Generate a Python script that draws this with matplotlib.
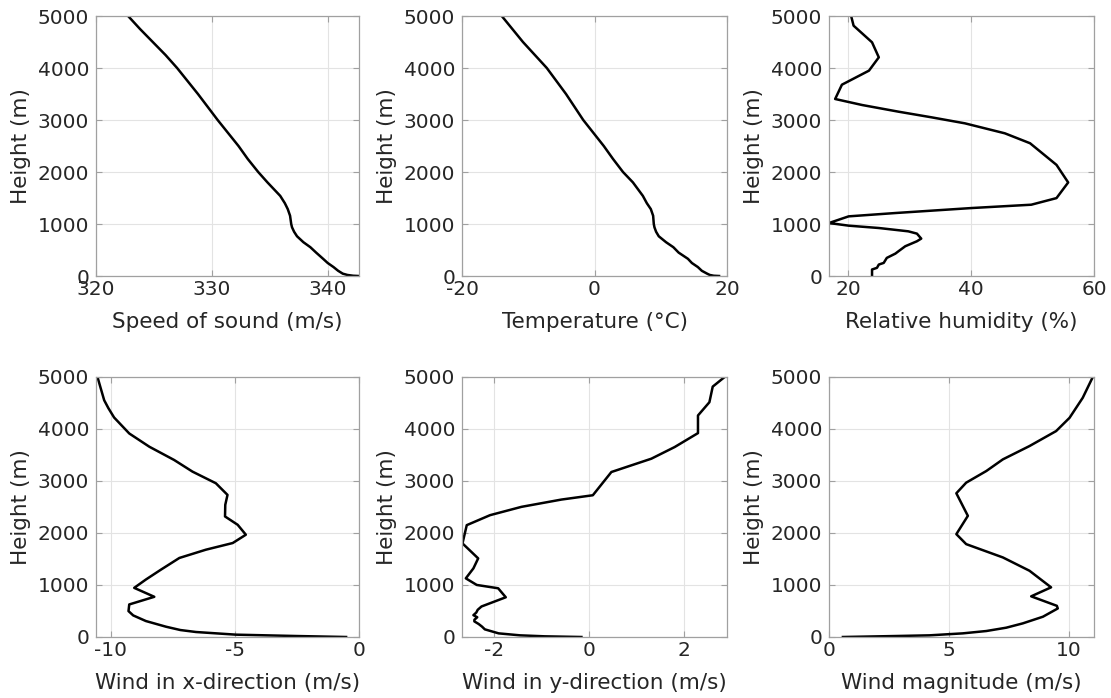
import matplotlib
matplotlib.use("Agg")
import matplotlib.pyplot as plt

# ---------------- data ----------------
sound_h = [0, 5, 20, 45, 100, 172, 250, 331, 450, 554, 650, 764, 850, 936, 1000, 1159, 1287, 1400,
           1541, 1800, 2000, 2250, 2500, 2750, 3000, 3250, 3500, 3750, 4000, 4250, 4500, 4750, 5000]
sound_c = [342.7, 342.2, 341.7, 341.3, 340.9, 340.5, 340.0, 339.6, 339.0, 338.5, 337.9, 337.35, 337.1,
           336.92, 336.85, 336.75, 336.55, 336.3, 335.9, 334.8, 334.0, 333.1, 332.3, 331.4, 330.5,
           329.65, 328.8, 327.9, 327.0, 326.0, 324.9, 323.8, 322.77]

temp_h = [0, 5, 20, 45, 100, 172, 250, 331, 450, 554, 650, 764, 850, 936, 1000, 1159, 1287, 1400,
          1541, 1800, 2000, 2250, 2500, 2750, 3000, 3250, 3500, 3750, 4000, 4250, 4500, 4750, 5000]
temp_t = [18.8, 18.0, 17.4, 17.0, 16.2, 15.6, 14.7, 14.1, 12.7, 11.9, 10.8, 9.7, 9.3, 9.05, 8.95,
          8.85, 8.5, 7.9, 7.3, 5.8, 4.3, 2.8, 1.4, -0.15, -1.7, -3.0, -4.3, -5.75, -7.2, -9.0, -10.8,
          -12.4, -14.0]

rh_h = [0, 125, 157, 220, 252, 348, 431, 476, 572, 668, 719, 815, 859, 923, 968, 1019,
        1147, 1211, 1307, 1371, 1498, 1799, 2137, 2553, 2744, 2936, 3051, 3160, 3288, 3404,
        3679, 3949, 4205, 4494, 4814, 5000]
rh_v = [23.9, 23.9, 24.7, 25.0, 25.8, 26.3, 27.7, 28.2, 29.3, 31.2, 31.9, 31.2, 29.8, 25.0, 20.1, 16.9,
        20.1, 27.7, 40.1, 49.8, 53.9, 55.8, 53.9, 49.6, 45.5, 39.0, 33.6, 28.2, 22.3, 17.9,
        19.0, 23.4, 25.0, 23.9, 20.9, 20.5]

u_h = [0, 19, 45, 96, 134, 198, 307, 415, 498, 626, 773, 945, 1105, 1296, 1520, 1679, 1807, 1967,
       2158, 2318, 2542, 2733, 2957, 3180, 3404, 3659, 3914, 4221, 4400, 4553, 4800, 5000]
u_v = [-0.52, -2.54, -4.96, -6.57, -7.2, -7.78, -8.59, -9.1, -9.29, -9.26, -8.25, -9.06, -8.59,
       -7.98, -7.24, -6.17, -5.09, -4.56, -4.89, -5.40, -5.39, -5.30, -5.77, -6.71, -7.45, -8.45,
       -9.26, -9.87, -10.1, -10.27, -10.42, -10.54]

v_h = [0, 13, 32, 70, 147, 200, 250, 300, 331, 380, 420, 470, 523, 587, 764, 937, 1001, 1128, 1320,
       1512, 1800, 2151, 2343, 2503, 2643, 2726, 3173, 3429, 3653, 3921, 4260, 4515, 4815, 5000]
v_v = [-0.16, -0.93, -1.45, -1.9, -2.19, -2.25, -2.32, -2.41, -2.41, -2.35, -2.43, -2.37, -2.34,
       -2.26, -1.75, -1.91, -2.36, -2.59, -2.43, -2.33, -2.66, -2.57, -2.08, -1.42, -0.58, 0.08,
       0.47, 1.31, 1.80, 2.29, 2.29, 2.53, 2.60, 2.85]

m_h = [0, 19, 32, 70, 115, 179, 262, 390, 549, 600, 782, 955, 1274, 1530, 1786, 1978, 2330, 2764,
       2968, 3192, 3416, 3672, 3960, 4215, 4600, 5000]
m_v = [0.58, 2.81, 4.19, 5.58, 6.56, 7.39, 8.08, 8.92, 9.54, 9.5, 8.43, 9.26, 8.36, 7.25, 5.72,
       5.31, 5.79, 5.31, 5.72, 6.56, 7.25, 8.36, 9.47, 10.03, 10.58, 11.0]

xlabels = ["Speed of sound (m/s)", "Temperature (°C)", "Relative humidity (%)",
           "Wind in x-direction (m/s)", "Wind in y-direction (m/s)", "Wind magnitude (m/s)"]
xticks = [[320, 330, 340], [-20, 0, 20], [20, 40, 60], [-10, -5, 0], [-2, 0, 2], [0, 5, 10]]
xlims = [(320, 342.7), (-20, 20), (16.9, 60), (-10.6, 0), (-2.67, 2.9), (0, 11.05)]
yticks = [0, 1000, 2000, 3000, 4000, 5000]
ylabel = "Height (m)"

series = [(sound_c, sound_h), (temp_t, temp_h), (rh_v, rh_h), (u_v, u_h), (v_v, v_h), (m_v, m_h)]

# ---------------- figure ----------------
W, H = 1111, 698
fig = plt.figure(figsize=(W / 100, H / 100), dpi=100)
plt.rcParams['font.family'] = ['DejaVu Sans']

lefts = [96, 462, 829]
widths = [263, 265, 265]
tops = [16, 377]
ah = 260
txt = '#262626'

for i, (xs, hs) in enumerate(series):
    r, c = divmod(i, 3)
    ax = fig.add_axes([lefts[c] / W, 1 - (tops[r] + ah) / H, widths[c] / W, ah / H])
    ax.plot(xs, hs, color='black', lw=1.8, solid_joinstyle='round')
    ax.set_xlim(*xlims[i])
    ax.set_ylim(0, 5000)
    ax.set_xticks(xticks[i])
    ax.set_yticks(yticks)
    ax.set_xticklabels([str(t) for t in xticks[i]])
    ax.grid(True, color='#e3e3e3', lw=0.8)
    ax.set_axisbelow(True)
    for s in ax.spines.values():
        s.set_color('#a0a0a0')
        s.set_linewidth(0.9)
    ax.tick_params(direction='in', length=4, width=0.8, color='#a0a0a0',
                   labelsize=14.5, labelcolor=txt, top=True, right=True)
    ax.tick_params(axis='y', pad=5)
    ax.tick_params(axis='x', pad=3)
    ax.set_xlabel(xlabels[i], fontsize=15.5, color=txt, labelpad=9)
    ax.set_ylabel(ylabel, fontsize=15.5, color=txt, labelpad=5)

fig.savefig("out.png", dpi=100)
